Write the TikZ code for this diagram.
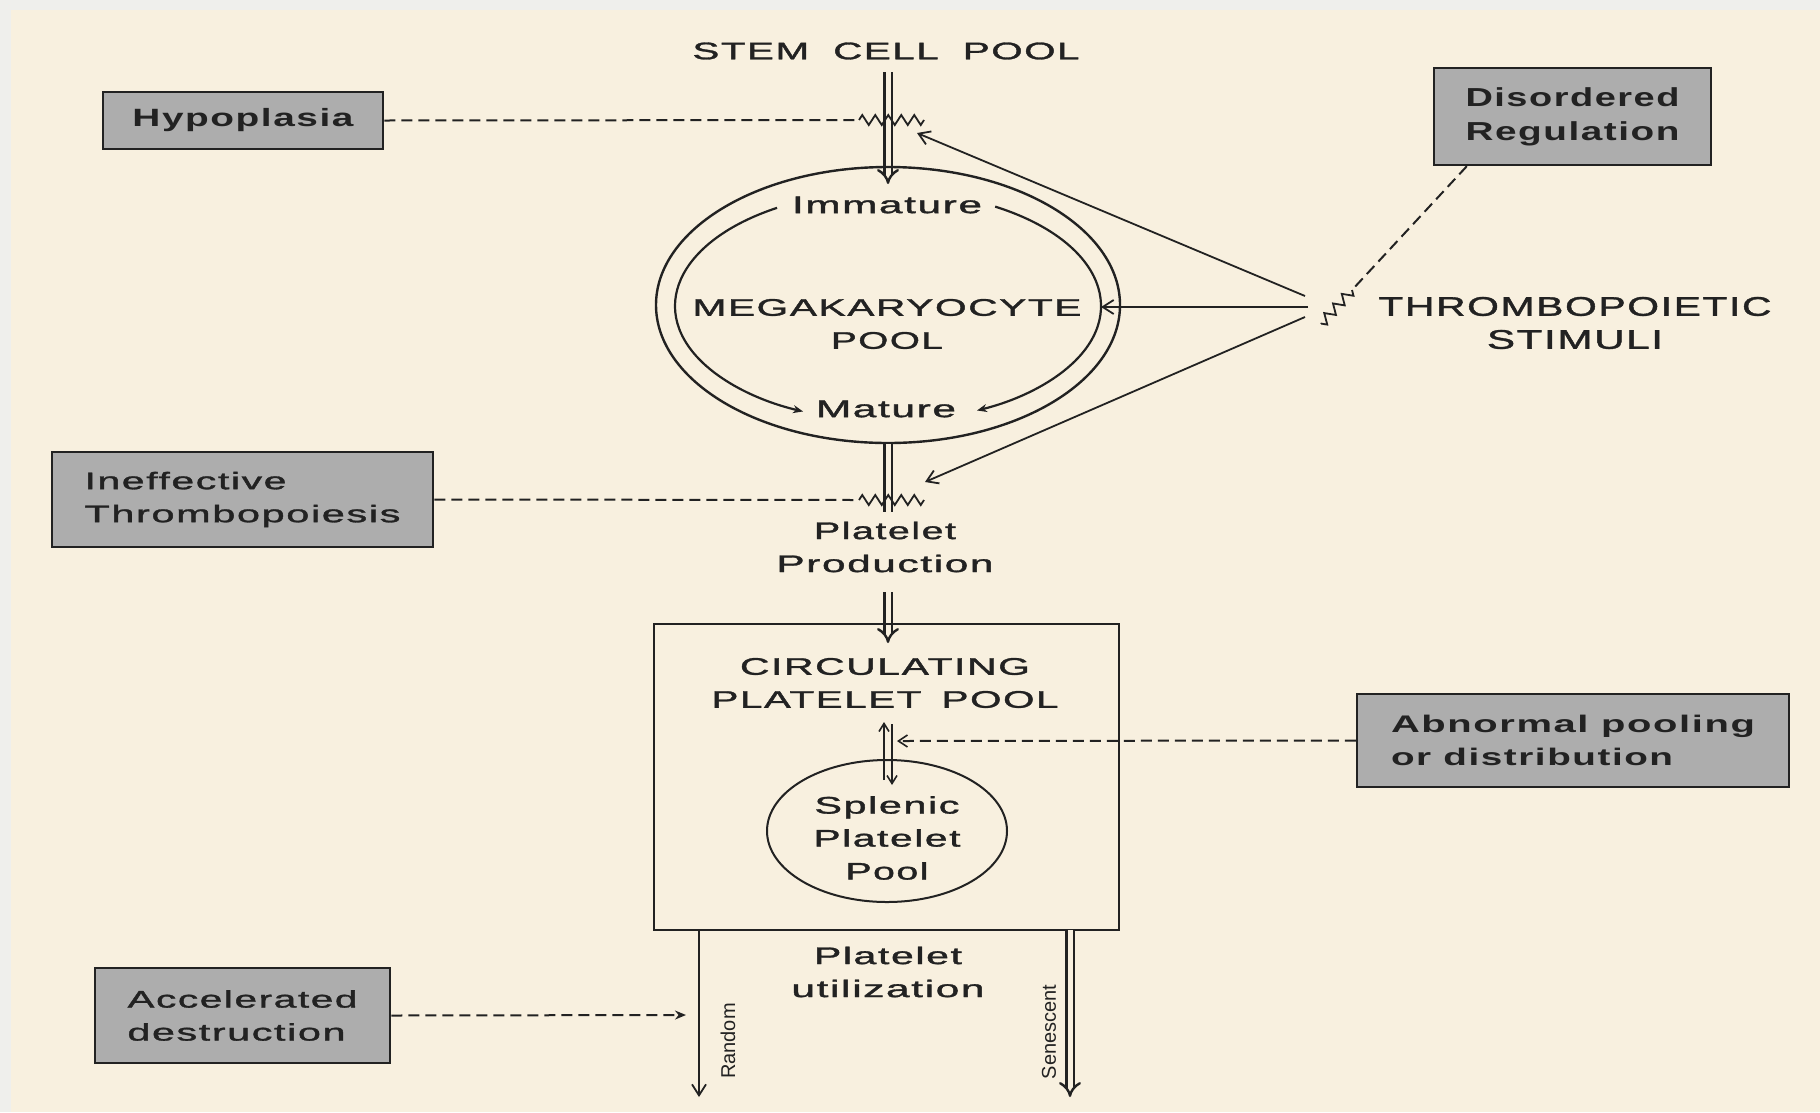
\documentclass[tikz,border=0pt]{standalone}
\usepackage{fontspec}
\usepackage{graphicx}
\setmainfont{Liberation Sans}
\newfontfamily\lsf[LetterSpace=4,FakeBold=1.2]{Liberation Sans}
\newfontfamily\lsb[LetterSpace=4]{Liberation Sans Bold}
\usetikzlibrary{arrows.meta,decorations.pathmorphing,shapes.geometric,calc}
\definecolor{bg}{HTML}{F8F0DF}
\definecolor{strip}{HTML}{EFEFEC}
\definecolor{boxfill}{HTML}{ADADAD}
\definecolor{ink}{HTML}{222222}
\newcommand\W[2]{\resizebox{#1pt}{\height}{#2}}
\begin{document}
\begin{tikzpicture}[x=1pt,y=-1pt,
  lbl/.style={inner sep=0pt,text=ink,align=center,font=\lsf\fontsize{24}{33}\selectfont},
  pbox/.style={draw=ink,line width=2.5pt,fill=boxfill,inner sep=0pt,align=left,text=ink,font=\lsf\fontsize{24}{33}\selectfont},
  dbl/.style={draw=ink,double=bg,double distance=5pt,line width=2.4pt},
  dblarr/.style={dbl,-{Implies}},
  thinarr/.style={draw=ink,line width=1.8pt,-{Straight Barb[length=11pt,width=14pt,line width=1.8pt]}},
  smallarr/.style={draw=ink,line width=1.8pt,-{Straight Barb[length=8pt,width=10pt,line width=1.6pt]}},
  dsh/.style={draw=ink,line width=2pt,dash pattern=on 11pt off 6pt},
  zz/.style={draw=ink,line width=1.8pt,decorate,decoration={zigzag,segment length=13pt,amplitude=5pt}},
  outline/.style={draw=ink,line width=2.4pt}
]
% background
\fill[bg] (0,0) rectangle (1820,1112);
\fill[strip] (0,0) rectangle (1820,10);
\fill[strip] (0,0) rectangle (11,1112);
\useasboundingbox (0,0) rectangle (1820,1112);

% stem cell pool
\node[lbl] (stem) at (886,51) {\W{387}{STEM\hspace{0.6em}CELL\hspace{0.6em}POOL}};
\coordinate (stemtop) at (888,72);
\coordinate (stemtip) at (888,184);
\draw[dblarr] (stemtop) -- (stemtip);

% megakaryocyte pool
\node[ellipse,outline,minimum width=464,minimum height=276,inner sep=0pt] (mkp) at (888,305) {};
\node[lbl] (imm) at (887,205) {\W{190}{Immature}};
\node[lbl] (mega) at (887,324) {\W{389}{MEGAKARYOCYTE}\\\W{112}{POOL}};
\node[lbl] (mat) at (886,409) {\W{140}{Mature}};
\coordinate (ia) at ($(888,306)+(238.6:213 and 115)$);
\coordinate (ib) at ($(888,306)+(300.2:213 and 115)$);
\draw[draw=ink,line width=2.2pt,-{Stealth[length=10pt,width=8pt]}] (ia) arc[start angle=238.6,end angle=113.5,x radius=213,y radius=115];
\draw[draw=ink,line width=2.2pt,-{Stealth[length=10pt,width=8pt]}] (ib) arc[start angle=300.2,end angle=425.3,x radius=213,y radius=115];

% hypoplasia
\node[pbox,minimum width=280,minimum height=57,font=\lsb\fontsize{25}{33}\selectfont] (hyp) at (243,120.5) {\W{221}{Hypoplasia}};
\coordinate (hz1) at (859,120);
\coordinate (hz2) at (924,120);
\draw[dsh] (hyp.east) -- (hz1);
\draw[zz] (hz1) -- (hz2);

% disordered regulation
\node[pbox,align=center,minimum width=277,minimum height=97,font=\lsb\fontsize{26}{34}\selectfont] (dis) at (1572.5,116.5) {\W{214}{Disordered}\\\W{214}{Regulation}};
\coordinate (dz1) at (1352,290);
\coordinate (dz2) at (1321,324);
\draw[dsh] ([xshift=34pt]dis.south west) -- (dz1);
\draw[zz] (dz1) -- (dz2);

% thrombopoietic stimuli
\node[lbl,font=\lsf\fontsize{27}{33}\selectfont] (thr) at (1575,323) {\W{393}{THROMBOPOIETIC}\\\W{176}{STIMULI}};
\coordinate (s1) at (1305,296);
\coordinate (s2) at (1308,307);
\coordinate (s3) at (1305,317);
\coordinate (t1) at (917,133);
\coordinate (t2) at (1101,307);
\coordinate (t3) at (925,482);
\draw[thinarr] (s1) -- (t1);
\draw[thinarr] (s2) -- (t2);
\draw[thinarr] (s3) -- (t3);

% platelet production
\coordinate (pp1) at (888,512);
\draw[dbl] (mkp.south) -- (pp1);
\node[pbox,minimum width=381,minimum height=95] (ineff) at (242.5,499.5) {\W{202}{Ineffective}\\\W{316}{Thrombopoiesis}};
\coordinate (iz1) at (859,500);
\coordinate (iz2) at (924,500);
\draw[dsh] (ineff.east) -- (iz1);
\draw[zz] (iz1) -- (iz2);
\node[lbl] (prod) at (885,547) {\W{142}{Platelet}\\\W{217}{Production}};
\coordinate (pp2) at (888,592);
\coordinate (pp3) at (888,643);
\draw[dblarr] (pp2) -- (pp3);

% circulating pool
\node[outline,minimum width=465,minimum height=306,inner sep=0pt] (circ) at (886.5,777) {};
\node[lbl] (cpp) at (885,683) {\W{290}{CIRCULATING}\\\W{347}{PLATELET\hspace{0.5em}POOL}};
\node[ellipse,draw=ink,line width=2pt,minimum width=240,minimum height=142,inner sep=0pt] (spl) at (887,831) {};
\node[lbl] (spltxt) at (887,838) {\W{145}{Splenic}\\\W{147}{Platelet}\\\W{83}{Pool}};
\coordinate (u1) at (884,780);
\coordinate (u2) at (884,722);
\coordinate (v1) at (892,724);
\coordinate (v2) at (892,785);
\draw[smallarr] (u1) -- (u2);
\draw[smallarr] (v1) -- (v2);

% abnormal pooling
\node[pbox,minimum width=432,minimum height=93,font=\lsb\fontsize{24}{33}\selectfont] (abn) at (1573,740.5) {\W{364}{Abnormal pooling}\\\W{282}{or distribution}};
\coordinate (abt) at (897,741);
\draw[dsh,-{Straight Barb[length=9pt,width=12pt,line width=1.6pt]}] (abn.west) -- (abt);

% utilization
\coordinate (r1) at (699,930);
\coordinate (r2) at (699,1097);
\draw[thinarr] (r1) -- (r2);
\coordinate (se1) at (1070,930);
\coordinate (se2) at (1070,1097);
\draw[dblarr] (se1) -- (se2);
\node[inner sep=0pt,text=ink,rotate=90,font=\fontsize{20}{24}\selectfont] (rnd) at (728,1041) {Random};
\node[inner sep=0pt,text=ink,rotate=90,font=\fontsize{20}{24}\selectfont] (sen) at (1049,1032) {Senescent};
\node[lbl] (util) at (888,972) {\W{148}{Platelet}\\\W{193}{utilization}};

% accelerated destruction
\node[pbox,minimum width=295,minimum height=95] (acc) at (242.5,1015.5) {\W{230}{Accelerated}\\\W{218}{destruction}};
\coordinate (acct) at (686,1015);
\draw[dsh,-{Stealth[length=11pt,width=9pt]}] (acc.east) -- (acct);
\end{tikzpicture}
\end{document}
